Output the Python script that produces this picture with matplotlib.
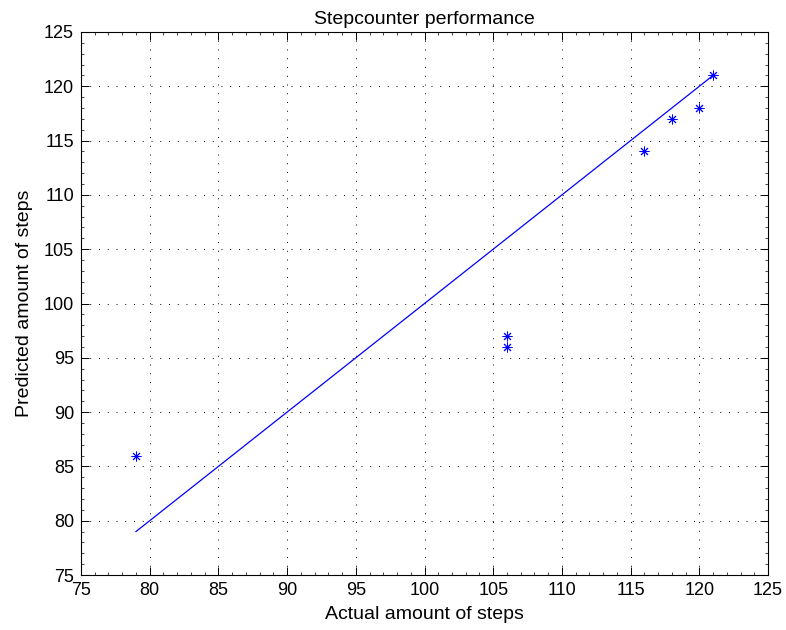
import matplotlib
matplotlib.use('Agg')
import matplotlib.pyplot as plt
from matplotlib.ticker import MultipleLocator

actual = [79, 106, 106, 116, 118, 120, 121]
predicted = [86, 97, 96, 114, 117, 118, 121]
ticks = [75, 80, 85, 90, 95, 100, 105, 110, 115, 120, 125]

plt.rcParams['font.family'] = ['Liberation Sans', 'DejaVu Sans']

fig = plt.figure(figsize=(7.86, 6.3), dpi=100)
ax = fig.add_axes([81 / 786, 1 - 575 / 630, (768 - 81) / 786, (575 - 32) / 630])

ax.plot(actual, actual, color='blue', linewidth=0.9)
ax.plot(actual, predicted, linestyle='none', marker=(8, 2, 0), markersize=7,
        markeredgewidth=0.7, color='blue')

ax.set_xlim(75, 125)
ax.set_ylim(75, 125)
ax.set_xticks(ticks)
ax.set_yticks(ticks)
ax.xaxis.set_minor_locator(MultipleLocator(1))
ax.yaxis.set_minor_locator(MultipleLocator(1))
ax.tick_params(which='major', direction='in', top=True, right=True, labelsize=13,
               length=6, width=0.7, pad=5)
ax.tick_params(which='minor', direction='in', top=True, right=True, length=2.5, width=0.5)
ax.grid(True, which='major', linestyle=(0, (1, 8)), color='black', linewidth=0.7)
for s in ax.spines.values():
    s.set_linewidth(0.8)

ax.set_title('Stepcounter performance', fontsize=14, pad=6)
ax.set_xlabel('Actual amount of steps', fontsize=14, labelpad=5)
ax.set_ylabel('Predicted amount of steps', fontsize=14, labelpad=8)

fig.savefig('out.png', dpi=100)
